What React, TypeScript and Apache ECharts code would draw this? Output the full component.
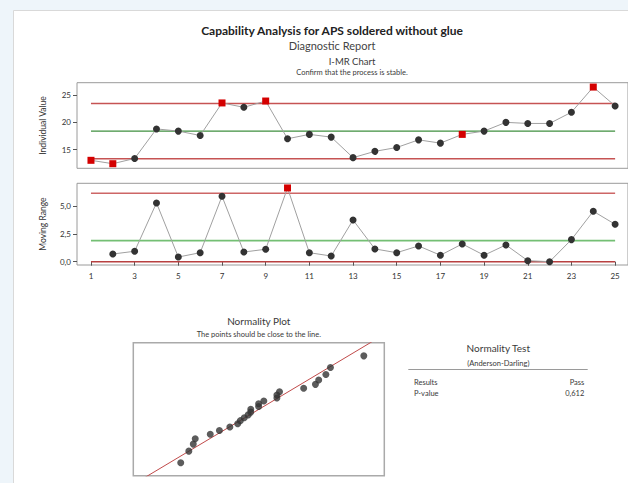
import React, { useEffect, useRef } from "react";
import * as echarts from "echarts";

// ---- data ----
const observations = [1, 2, 3, 4, 5, 6, 7, 8, 9, 10, 11, 12, 13, 14, 15, 16, 17, 18, 19, 20, 21, 22, 23, 24, 25];
const individualValues = [13.06, 12.44, 13.4, 18.8, 18.4, 17.6, 23.55, 22.75, 23.9, 17.0, 17.8, 17.3, 13.55, 14.7, 15.4, 16.8, 16.2, 17.8, 18.4, 20.0, 19.8, 19.8, 21.85, 26.45, 23.0];
const movingRanges = [null, 0.69, 0.94, 5.3, 0.42, 0.81, 5.9, 0.87, 1.12, 6.65, 0.81, 0.51, 3.76, 1.15, 0.81, 1.42, 0.58, 1.6, 0.58, 1.51, 0.09, 0.0, 1.99, 4.55, 3.37];
const iFlagged = [1, 2, 7, 9, 18, 24];
const mrFlagged = [10];
const iUCL = 23.45;
const iCL = 18.4;
const iLCL = 13.35;
const mrUCL = 6.17;
const mrCL = 1.9;
const mrLCL = 0;
const xTickValues = [1, 3, 5, 7, 9, 11, 13, 15, 17, 19, 21, 23, 25];
const iTickValues = [15, 20, 25];
const mrTickValues = [0, 2.5, 5];
// normal scores (plotting positions) for n = 25, ascending
const normalScores = [-1.918, -1.499, -1.247, -1.055, -0.896, -0.757, -0.632, -0.516, -0.406, -0.301, -0.199, -0.099, 0, 0.099, 0.199, 0.301, 0.406, 0.516, 0.632, 0.757, 0.896, 1.055, 1.247, 1.499, 1.918];
const fitMean = 18.42;
const fitSd = 3.57;
const testRows = [
  ["Results", "Pass"],
  ["P-value", "0,612"],
];

const FONT = "Lato, 'Open Sans', sans-serif";

export default function App() {
  const ref = useRef<HTMLDivElement>(null);

  useEffect(() => {
    if (!ref.current) return;
    const chart = echarts.init(ref.current, undefined, { renderer: "svg" });

    const iData = observations.map((x, i) => {
      const flagged = iFlagged.includes(x);
      return flagged
        ? { value: [x, individualValues[i]], symbol: "rect", symbolSize: 7, itemStyle: { color: "#d40000" } }
        : { value: [x, individualValues[i]] };
    });
    const mrData = observations
      .map((x, i) => ({ x, v: movingRanges[i] }))
      .filter((d) => d.v !== null)
      .map((d) => {
        const flagged = mrFlagged.includes(d.x);
        return flagged
          ? { value: [d.x, d.v], symbol: "rect", symbolSize: 7, itemStyle: { color: "#d40000" } }
          : { value: [d.x, d.v] };
      });

    const first = observations[0];
    const last = observations[observations.length - 1];
    const hline = (y: number, color: string, width: number, xi: number, yi: number) => ({
      type: "line",
      xAxisIndex: xi,
      yAxisIndex: yi,
      data: [[first, y], [last, y]],
      symbol: "none",
      lineStyle: { color, width },
      silent: true,
      z: 1,
    });

    const sorted = [...individualValues].sort((a, b) => a - b);
    const normData = sorted.map((v, i) => [v, normalScores[i]]);

    const text = (x: number, y: number, t: string, size: number, opts: any = {}) => ({
      type: "text",
      x,
      y,
      z: 10,
      style: {
        text: t,
        fontSize: size,
        fontFamily: FONT,
        fontWeight: opts.bold ? "bold" : "normal",
        fill: opts.fill || "#3a3a3a",
        textAlign: opts.align || "center",
        textVerticalAlign: "middle",
      },
    });

    const gridBorder = { show: true, borderColor: "#9a9a9a", borderWidth: 1, backgroundColor: "#fff" };
    const axisLabelStyle = { fontSize: 8, color: "#333", fontFamily: FONT };

    chart.setOption({
      animation: false,
      backgroundColor: "#eef5fa",
      grid: [
        { left: 77, top: 82.7, width: 553, height: 85.6, ...gridBorder },
        { left: 77, top: 183.3, width: 553, height: 81.7, ...gridBorder },
        { left: 133.3, top: 342.7, width: 251, height: 133, ...gridBorder, borderColor: "#aaa", borderWidth: 1.5 },
      ],
      xAxis: [
        {
          type: "value", gridIndex: 0, min: 0.36, max: 25.59,
          axisLine: { show: false }, axisTick: { show: false }, axisLabel: { show: false }, splitLine: { show: false },
        },
        {
          type: "value", gridIndex: 1, min: 0.36, max: 25.59,
          axisLine: { show: false },
          axisTick: { show: true, length: 4, lineStyle: { color: "#555" }, customValues: xTickValues },
          axisLabel: { ...axisLabelStyle, margin: 7, customValues: xTickValues },
          splitLine: { show: false },
        },
        {
          type: "value", gridIndex: 2, min: 8.81, max: 28.02,
          axisLine: { show: false }, axisTick: { show: false }, axisLabel: { show: false }, splitLine: { show: false },
        },
      ],
      yAxis: [
        {
          type: "value", gridIndex: 0, min: 11.6, max: 27.25,
          name: "Individual Value", nameLocation: "middle", nameGap: 30,
          nameTextStyle: { fontSize: 8.5, color: "#333", fontFamily: FONT },
          axisLine: { show: false },
          axisTick: { show: true, length: 4, lineStyle: { color: "#555" }, customValues: iTickValues },
          axisLabel: { ...axisLabelStyle, margin: 6, customValues: iTickValues },
          splitLine: { show: false },
        },
        {
          type: "value", gridIndex: 1, min: -0.3, max: 7.07,
          name: "Moving Range", nameLocation: "middle", nameGap: 30,
          nameTextStyle: { fontSize: 8.5, color: "#333", fontFamily: FONT },
          axisLine: { show: false },
          axisTick: { show: true, length: 4, lineStyle: { color: "#555" }, customValues: mrTickValues },
          axisLabel: {
            ...axisLabelStyle, margin: 6, customValues: mrTickValues,
            formatter: (v: number) => v.toFixed(1).replace(".", ","),
          },
          splitLine: { show: false },
        },
        {
          type: "value", gridIndex: 2, min: -2.38, max: 2.39,
          axisLine: { show: false }, axisTick: { show: false }, axisLabel: { show: false }, splitLine: { show: false },
        },
      ],
      series: [
        hline(iUCL, "#c65353", 1.5, 0, 0),
        hline(iCL, "#3f8f3f", 1.2, 0, 0),
        hline(iLCL, "#c65353", 1.5, 0, 0),
        {
          type: "line", xAxisIndex: 0, yAxisIndex: 0, data: iData,
          symbol: "circle", symbolSize: 7,
          itemStyle: { color: "#333" },
          lineStyle: { color: "#a0a0a0", width: 1 },
          z: 3,
        },
        hline(mrUCL, "#cd6666", 1.5, 1, 1),
        hline(mrCL, "#74bf74", 1.8, 1, 1),
        hline(mrLCL, "#b84040", 1.5, 1, 1),
        {
          type: "line", xAxisIndex: 1, yAxisIndex: 1, data: mrData,
          symbol: "circle", symbolSize: 7,
          itemStyle: { color: "#333" },
          lineStyle: { color: "#a0a0a0", width: 1 },
          z: 3,
        },
        {
          type: "line", xAxisIndex: 2, yAxisIndex: 2,
          data: [[fitMean - 2.6 * fitSd, -2.6], [fitMean + 2.6 * fitSd, 2.6]],
          symbol: "none", lineStyle: { color: "#c04a4a", width: 1 }, clip: true, z: 2,
        },
        {
          type: "scatter", xAxisIndex: 2, yAxisIndex: 2, data: normData,
          symbol: "circle", symbolSize: 7, itemStyle: { color: "#333" }, z: 3,
        },
      ],
      graphic: [
        {
          type: "rect", z: -10, silent: true,
          shape: { x: 13.5, y: 10.5, width: 700, height: 600 },
          style: { fill: "#fff", stroke: "#d9d9d9", lineWidth: 1 },
        },
        text(332, 30.5, "Capability Analysis for APS soldered without glue", 12, { bold: true, fill: "#222" }),
        text(332, 45, "Diagnostic Report", 11, { fill: "#444" }),
        text(352, 61, "I-MR Chart", 9.5),
        text(352, 72.5, "Confirm that the process is stable.", 7.5),
        text(258.8, 321, "Normality Plot", 10),
        text(258.8, 334.5, "The points should be close to the line.", 7.5),
        text(498.3, 347.7, "Normality Test", 10),
        text(498.3, 363.3, "(Anderson-Darling)", 7.5),
        {
          type: "line", z: 10, silent: true,
          shape: { x1: 408.3, y1: 369.5, x2: 587.7, y2: 369.5 },
          style: { stroke: "#9a9a9a", lineWidth: 1 },
        },
        ...testRows.flatMap((row, i) => [
          text(414, 382.7 + i * 10.3, row[0], 7.5, { align: "left" }),
          text(584.3, 382.7 + i * 10.3, row[1], 7.5, { align: "right" }),
        ]),
      ],
    });

    return () => chart.dispose();
  }, []);

  return (
    <div
      ref={ref}
      style={{ position: "absolute", left: 0, top: 0, width: 628, height: 483, overflow: "hidden" }}
    />
  );
}
